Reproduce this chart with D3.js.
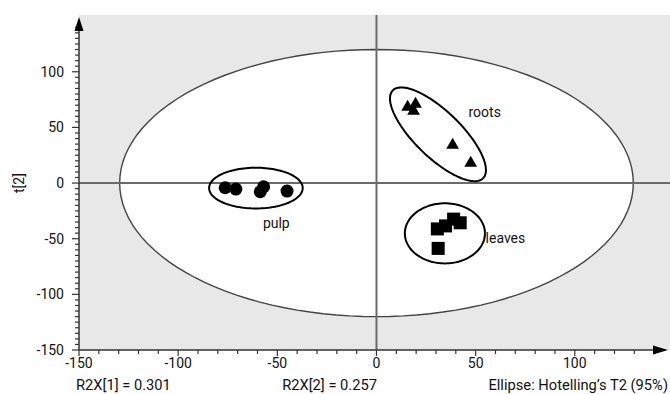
<!DOCTYPE html>
<html>
<head>
<meta charset="utf-8">
<script src="https://cdn.jsdelivr.net/npm/d3@7"></script>
<style>
  html, body { margin: 0; padding: 0; background: #fff; }
  svg { display: block; font-family: Roboto, "Noto Sans", sans-serif; }
</style>
</head>
<body>
<svg id="chart" width="670" height="394"></svg>
<script>
// ---- data (t[1], t[2] scores) ----
const pulpX   = [-76.3, -70.9, -56.9, -58.6, -45.1];
const pulpY   = [-4.2, -5.4, -3.3, -7.8, -7.2];
const rootsX  = [15.7, 19.7, 18.7, 38.4, 47.5];
const rootsY  = [68.3, 71.0, 64.7, 34.2, 18.0];
const leavesX = [30.7, 34.8, 38.9, 42.2, 31.1];
const leavesY = [-41.2, -38.5, -32.4, -35.7, -58.7];
const groupNames = ["pulp", "roots", "leaves"];
// group ellipses: centre and two semi-axis vectors (data units)
const groupEllipseCentre = [[-60.8, -4.5], [31.0, 43.8], [34.5, -45.2]];
const groupEllipseAxisU  = [[23.6, 0], [22.8, -39.4], [20.2, 0]];
const groupEllipseAxisV  = [[0, 18.3], [-8.1, -14.9], [0, 27.0]];
// Hotelling's T2 (95%) ellipse semi-axes
const hotellingRx = 129.5, hotellingRy = 120;
const xTicks = [-150, -100, -50, 0, 50, 100];
const yTicks = [-150, -100, -50, 0, 50, 100];
const footLeft = "R2X[1] = 0.301";
const footMid = "R2X[2] = 0.257";
const footRight = "Ellipse: Hotelling\u2019s T2 (95%)";
const yTitle = "t[2]";

// ---- drawing ----
const svg = d3.select("#chart");
const x = d3.scaleLinear().domain([-150, 148]).range([79, 670]);
const y = d3.scaleLinear().domain([-150, 151]).range([350, 15]);
const txt = "#111";

svg.append("rect").attr("x", x(-150)).attr("y", y(151))
  .attr("width", x(148) - x(-150)).attr("height", y(-150) - y(151))
  .attr("fill", "#e8e8e8");

function ellipsePath(c, u, v) {
  const pts = d3.range(0, 361, 3).map(a => {
    const t = a * Math.PI / 180;
    return [c[0] + u[0] * Math.cos(t) + v[0] * Math.sin(t),
            c[1] + u[1] * Math.cos(t) + v[1] * Math.sin(t)];
  });
  return d3.line().x(d => x(d[0])).y(d => y(d[1]))(pts);
}

svg.append("path")
  .attr("d", ellipsePath([0, 0], [hotellingRx, 0], [0, hotellingRy]))
  .attr("fill", "#fff").attr("stroke", "#444").attr("stroke-width", 1.4);

// zero lines
svg.append("line").attr("x1", x(-150)).attr("x2", x(148)).attr("y1", y(0)).attr("y2", y(0))
  .attr("stroke", "#6a6a6a").attr("stroke-width", 2);
svg.append("line").attr("x1", x(0)).attr("x2", x(0)).attr("y1", y(151)).attr("y2", y(-150))
  .attr("stroke", "#6a6a6a").attr("stroke-width", 2);

// group ellipses
groupNames.forEach((g, i) => {
  svg.append("path")
    .attr("d", ellipsePath(groupEllipseCentre[i], groupEllipseAxisU[i], groupEllipseAxisV[i]))
    .attr("fill", "none").attr("stroke", "#000").attr("stroke-width", 2);
});

// markers
const pulp = pulpX.map((v, i) => [v, pulpY[i]]);
const roots = rootsX.map((v, i) => [v, rootsY[i]]);
const leaves = leavesX.map((v, i) => [v, leavesY[i]]);
svg.append("g").selectAll("circle").data(pulp).join("circle")
  .attr("cx", d => x(d[0])).attr("cy", d => y(d[1])).attr("r", 6.5).attr("fill", "#000");
svg.append("g").selectAll("path").data(roots).join("path")
  .attr("d", d3.symbol(d3.symbolTriangle, 70))
  .attr("transform", d => `translate(${x(d[0])},${y(d[1])})`).attr("fill", "#000");
svg.append("g").selectAll("path").data(leaves).join("path")
  .attr("d", d3.symbol(d3.symbolSquare, 170))
  .attr("transform", d => `translate(${x(d[0])},${y(d[1])})`).attr("fill", "#000");

// group labels
const labelAt = { pulp: [-50.5, -40.3, "middle"], roots: [46.4, 59.8, "start"], leaves: [55.0, -54.2, "start"] };
groupNames.forEach(g => {
  const p = labelAt[g];
  svg.append("text").attr("x", x(p[0])).attr("y", y(p[1])).attr("text-anchor", p[2])
    .attr("font-size", 14).attr("fill", txt).text(g);
});

// axes
const axisCol = "#333";
const xAxis = svg.append("g").attr("transform", `translate(0,${y(-150)})`);
xAxis.append("line").attr("x1", x(-150)).attr("x2", x(142)).attr("stroke", axisCol).attr("stroke-width", 1.5);
xAxis.selectAll(".mt").data(d3.range(-150, 141, 10)).join("line")
  .attr("x1", d => x(d)).attr("x2", d => x(d)).attr("y1", 0)
  .attr("y2", d => xTicks.includes(d) ? 6 : 4).attr("stroke", axisCol).attr("stroke-width", 1.2);
xAxis.selectAll("text").data(xTicks).join("text")
  .attr("x", d => x(d)).attr("y", 18).attr("text-anchor", "middle")
  .attr("font-size", 14).attr("fill", txt).text(d => d);
xAxis.append("path")
  .attr("d", `M${x(148) - 2},0 L${x(148) - 17},-4.5 L${x(148) - 17},4.5 Z`).attr("fill", "#000");

const yAxis = svg.append("g").attr("transform", `translate(${x(-150)},0)`);
yAxis.append("line").attr("y1", y(-150)).attr("y2", y(141)).attr("stroke", axisCol).attr("stroke-width", 1.5);
yAxis.selectAll(".mt").data(d3.range(-150, 141, 5)).join("line")
  .attr("y1", d => y(d)).attr("y2", d => y(d)).attr("x1", 0)
  .attr("x2", d => yTicks.includes(d) ? -7 : -4).attr("stroke", axisCol).attr("stroke-width", 1.2);
yAxis.selectAll("text").data(yTicks).join("text")
  .attr("x", -15).attr("y", d => y(d) + 5).attr("text-anchor", "end")
  .attr("font-size", 14).attr("fill", txt).text(d => d);
yAxis.append("path")
  .attr("d", `M0,${y(151) + 2} L-4.5,${y(151) + 16} L4.5,${y(151) + 16} Z`).attr("fill", "#000");

svg.append("text").attr("transform", `translate(24,${y(0)}) rotate(-90)`)
  .attr("text-anchor", "middle").attr("font-size", 14).attr("fill", txt).text(yTitle);

svg.append("text").attr("x", 76).attr("y", 390).attr("font-size", 14.7).attr("fill", txt).text(footLeft);
svg.append("text").attr("x", 377).attr("y", 390).attr("text-anchor", "end").attr("font-size", 14.7).attr("fill", txt).text(footMid);
svg.append("text").attr("x", 668).attr("y", 390).attr("text-anchor", "end").attr("font-size", 14.7).attr("fill", txt).text(footRight);
</script>
</body>
</html>
